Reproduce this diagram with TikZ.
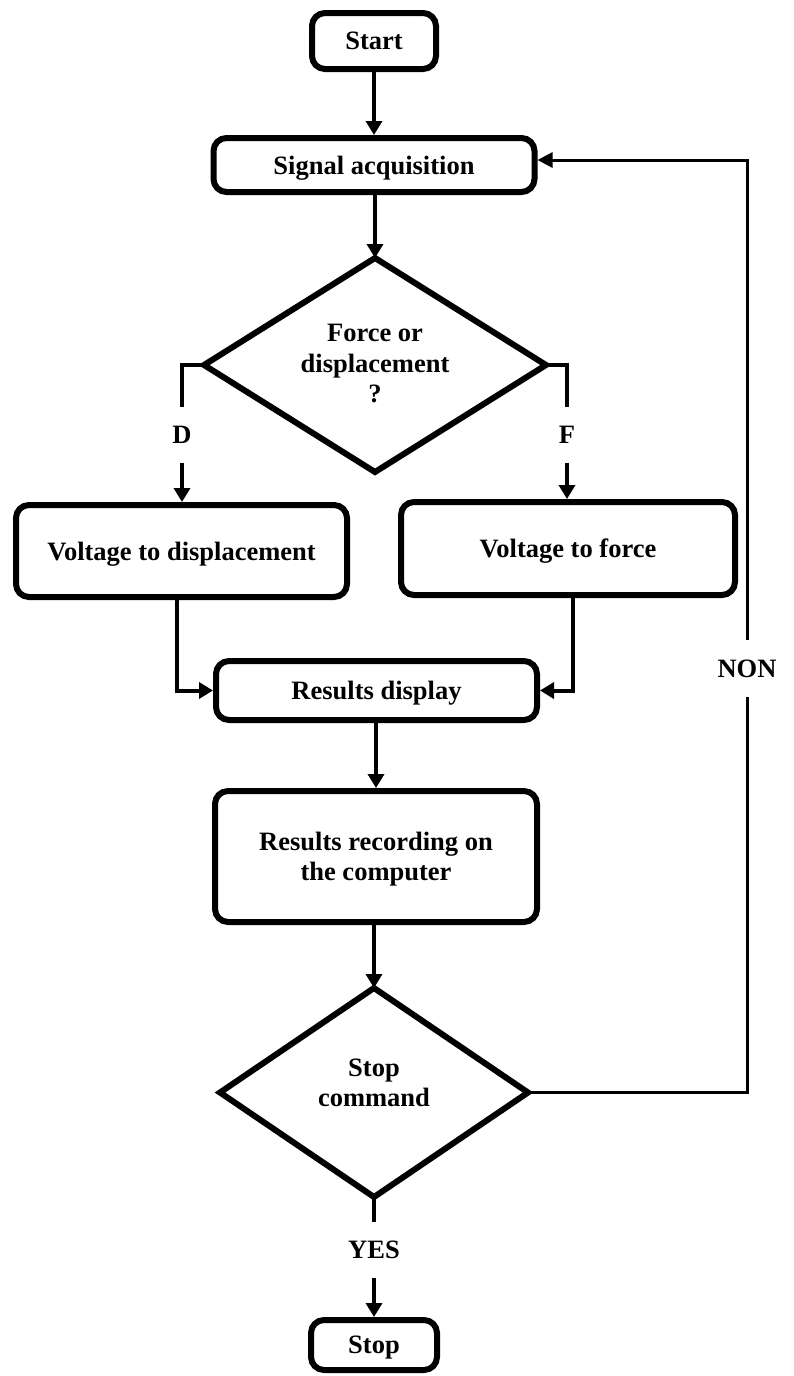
\documentclass[tikz,border=0pt]{standalone}
\usepackage{fontspec}
\setmainfont{Liberation Serif}
\usetikzlibrary{shapes.geometric,arrows.meta}
\begin{document}
\begin{tikzpicture}[x=1pt,y=-1pt,
  txtfont/.style={font=\bfseries\fontsize{26.5pt}{30.5pt}\selectfont},
  box/.style={draw,line width=6pt,rounded corners=13pt,align=center,inner sep=0pt,text depth=0pt,txtfont},
  dia/.style={draw,diamond,line width=6pt,inner sep=0pt,outer sep=0pt},
  txt/.style={align=center,inner sep=0pt,txtfont},
  lbl/.style={inner xsep=2pt,inner ysep=19pt,txtfont},
  con/.style={line width=4pt},
  arr/.style={line width=4pt,-{Triangle[width=16pt,length=14pt]}},
  loopcon/.style={line width=3pt},
  looparr/.style={line width=3pt,-{Triangle[width=15pt,length=15pt]}}]
\useasboundingbox[fill=white] (0,0) rectangle (793,1376);

% nodes
\node[box,minimum width=124pt,minimum height=56pt] (start) at (374,41) {Start};
\node[box,minimum width=321pt,minimum height=54pt] (sig) at (374,165) {Signal acquisition};
\node[dia,minimum width=342pt,minimum height=214pt] (d1) at (375,365) {};
\node[txt] (d1t) at (375,364) {Force or\\displacement\\?};
\node[box,minimum width=331pt,minimum height=92pt] (vtd) at (181.5,551) {Voltage to displacement};
\node[box,minimum width=334pt,minimum height=93pt] (vtf) at (568,548.5) {Voltage to force};
\node[box,minimum width=321pt,minimum height=59pt] (disp) at (376.5,690.5) {Results display};
\node[box,minimum width=322pt,minimum height=131pt] (rec) at (376,856.5) {Results recording on\\the computer};
\node[dia,minimum width=308pt,minimum height=209pt] (d2) at (374,1092.5) {};
\node[txt] (d2t) at (374,1083) {Stop\\command};
\node[box,minimum width=126pt,minimum height=50pt] (stop) at (374,1345) {Stop};

% labels
\node[lbl] (dl) at (182,435) {D};
\node[lbl] (fl) at (567,435) {F};
\node[lbl] (nonl) at (747,668.5) {NON};
\node[lbl] (yesl) at (374,1250) {YES};

% connectors
\draw[arr] (start.south) -- (start.south |- sig.north);
\draw[arr] (sig.south -| d1.north) -- (d1.north);

\coordinate (dc) at (d1.west -| dl);
\draw[con] (d1.west) -- (dc) -- (dl.north);
\draw[arr] (dl.south) -- (dl.south |- vtd.north);

\coordinate (fc) at (d1.east -| fl);
\draw[con] (d1.east) -- (fc) -- (fl.north);
\draw[arr] (fl.south) -- (fl.south |- vtf.north);

\draw[arr] ([xshift=-4.5pt]vtd.south) |- (disp.west);
\draw[arr] ([xshift=5pt]vtf.south) |- (disp.east);

\draw[arr] (disp.south -| rec.north) -- (rec.north);
\draw[arr] (rec.south -| d2.north) -- (d2.north);

\draw[con] (d2.south) -- (yesl.north);
\draw[arr] (yesl.south) -- (stop.north);

\coordinate (lc) at (d2.east -| nonl);
\draw[loopcon] (d2.east) -- (lc) -- (nonl.south);
\coordinate (lt) at (747,160);
\draw[looparr] (nonl.north) -- (lt) -- (lt -| sig.east);
\end{tikzpicture}
\end{document}
